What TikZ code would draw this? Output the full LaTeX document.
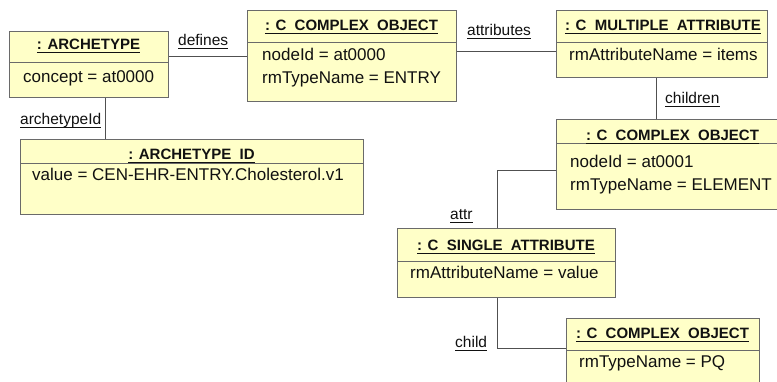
\documentclass[tikz,border=0pt]{standalone}
\usepackage{fontspec}
\setmainfont{Liberation Sans}
\definecolor{objfill}{HTML}{FFFFC8}
\definecolor{boxgray}{HTML}{6A6A6A}
\definecolor{linegray}{HTML}{505050}
\definecolor{inkcol}{HTML}{111111}
% wider gap between the words of a class name
\newcommand\wgap{\hspace{0.55em}}
% underline drawn under a text node
\newcommand\ulnode[1]{\draw[uline] ([yshift=-3pt]#1.base west) -- ([yshift=-3pt]#1.base east);}
\begin{document}
\begin{tikzpicture}[x=1pt,y=-1pt,
  objbox/.style={draw=boxgray, fill=objfill, line width=1pt, rectangle, inner sep=0pt, anchor=north west},
  divider/.style={draw=boxgray, line width=1pt},
  title/.style={inner sep=0pt, anchor=base, text=inkcol, font=\fontsize{15}{18}\selectfont\bfseries},
  attrtext/.style={inner sep=0pt, anchor=base west, text=inkcol, font=\fontsize{17}{20}\selectfont},
  role/.style={inner sep=0pt, anchor=base west, text=inkcol, font=\fontsize{15.5}{18}\selectfont},
  uline/.style={draw=inkcol, line width=1pt},
  conn/.style={draw=linegray, line width=1pt}]
\clip (0,0) rectangle (777,381);
\fill[white] (0,0) rectangle (777,381);

% ---- object boxes ----
\node[objbox, minimum width=159pt, minimum height=66pt] (arch) at (9,31) {};
\draw[divider] (arch.west |- 0,62) -- (arch.east |- 0,62);
\node[title] (archT) at (88.5,49) {: ARCHETYPE};
\ulnode{archT}
\node[attrtext] (archA) at (23,82) {concept = at0000};

\node[objbox, minimum width=343pt, minimum height=75pt] (aid) at (20,139) {};
\draw[divider] (aid.west |- 0,163) -- (aid.east |- 0,163);
\node[title] (aidT) at (191.5,159) {: ARCHETYPE\wgap ID};
\ulnode{aidT}
\node[attrtext] (aidA) at (32,180) {value = CEN-EHR-ENTRY.Cholesterol.v1};

\node[objbox, minimum width=209pt, minimum height=91pt] (co1) at (247,10) {};
\draw[divider] (co1.west |- 0,42) -- (co1.east |- 0,42);
\node[title] (co1T) at (351.5,30) {: C\wgap COMPLEX\wgap OBJECT};
\ulnode{co1T}
\node[attrtext] (co1A) at (262,60) {nodeId = at0000};
\node[attrtext] (co1B) at (262,83) {rmTypeName = ENTRY};

\node[objbox, minimum width=211pt, minimum height=67pt] (ma) at (556,10) {};
\draw[divider] (ma.west |- 0,42) -- (ma.east |- 0,42);
\node[title] (maT) at (663,30) {: C\wgap MULTIPLE\wgap ATTRIBUTE};
\ulnode{maT}
\node[attrtext] (maA) at (569,60) {rmAttributeName = items};

\node[objbox, minimum width=233pt, minimum height=90pt] (co2) at (556,119) {};
\draw[divider] (co2.west |- 0,143) -- (co2.east |- 0,143);
\node[title] (co2T) at (672.5,140) {: C\wgap COMPLEX\wgap OBJECT};
\ulnode{co2T}
\node[attrtext] (co2A) at (570,167) {nodeId = at0001};
\node[attrtext] (co2B) at (570,190) {rmTypeName = ELEMENT};

\node[objbox, minimum width=218pt, minimum height=69pt] (sa) at (397,228) {};
\draw[divider] (sa.west |- 0,261) -- (sa.east |- 0,261);
\node[title] (saT) at (506,250) {: C\wgap SINGLE\wgap ATTRIBUTE};
\ulnode{saT}
\node[attrtext] (saA) at (410,278) {rmAttributeName = value};

\node[objbox, minimum width=193pt, minimum height=90pt] (co3) at (566,318) {};
\draw[divider] (co3.west |- 0,350) -- (co3.east |- 0,350);
\node[title] (co3T) at (662.5,338) {: C\wgap COMPLEX\wgap OBJECT};
\ulnode{co3T}
\node[attrtext] (co3A) at (579,367) {rmTypeName = PQ};

% ---- links ----
\draw[conn] (arch.east |- 0,56) -- (co1.west |- 0,56);
\draw[conn] (arch.south -| 105,0) -- (aid.north -| 105,0);
\draw[conn] (co1.east |- 0,51) -- (ma.west |- 0,51);
\draw[conn] (ma.south -| 656,0) -- (co2.north -| 656,0);
\draw[conn] (co2.west |- 0,170) -| (sa.north -| 497,0);
\draw[conn] (sa.south -| 497,0) |- (co3.west |- 0,348);

% ---- link role names ----
\node[role] (rDefines) at (178,45) {defines};
\ulnode{rDefines}
\node[role] (rArchId) at (20,124) {archetypeId};
\ulnode{rArchId}
\node[role] (rAttrs) at (467,35) {attributes};
\ulnode{rAttrs}
\node[role] (rChildren) at (665,103) {children};
\ulnode{rChildren}
\node[role] (rAttr) at (450,219) {attr};
\ulnode{rAttr}
\node[role] (rChild) at (455,347) {child};
\ulnode{rChild}
\end{tikzpicture}
\end{document}
